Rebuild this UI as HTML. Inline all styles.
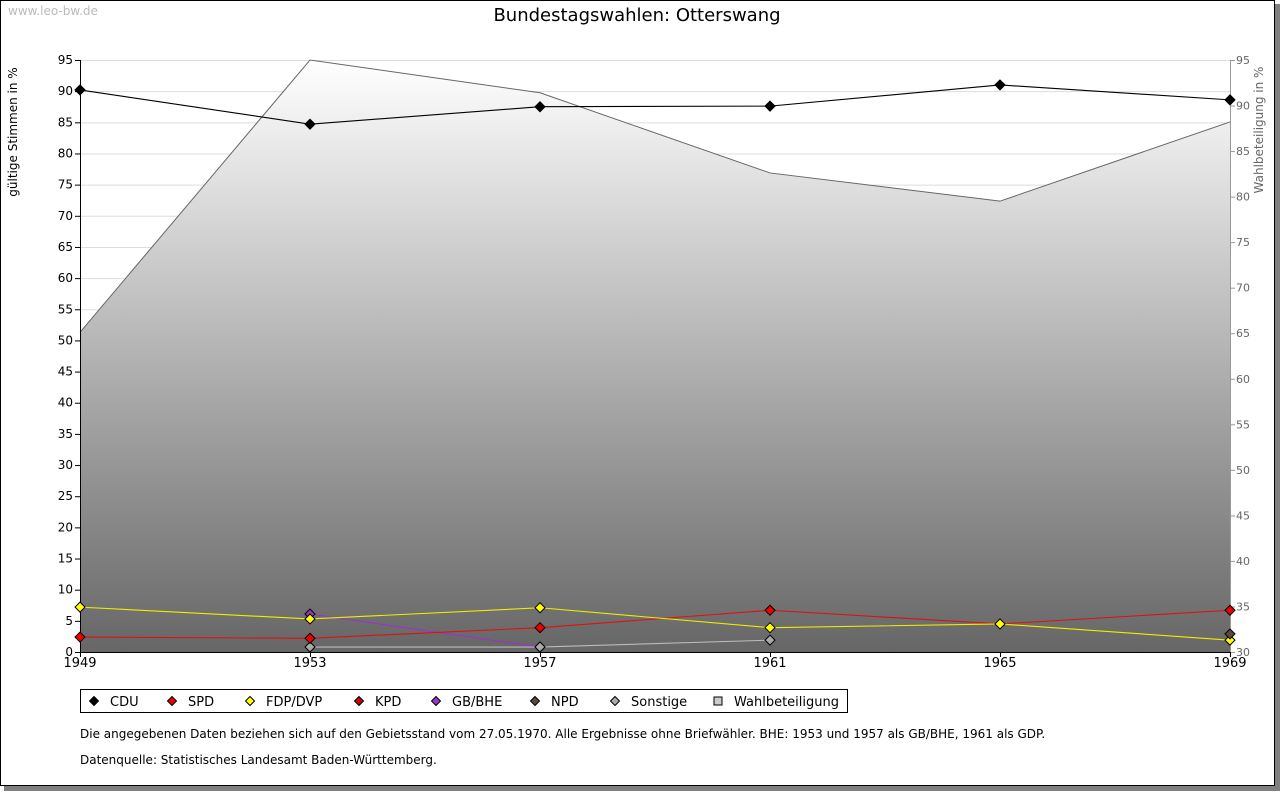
<!DOCTYPE html>
<html><head><meta charset="utf-8"><style>
body{margin:0;background:#fff;font-family:"Liberation Sans","DejaVu Sans",sans-serif;}
svg text{font-family:"DejaVu Sans","Liberation Sans",sans-serif;}
</style></head><body>
<svg id="c" width="1280" height="791" xmlns="http://www.w3.org/2000/svg">
<defs><linearGradient id="g" x1="0" y1="0" x2="0" y2="1"><stop offset="0" stop-color="#ffffff"/><stop offset="1" stop-color="#666666"/></linearGradient></defs>
<rect x="4" y="4" width="1276" height="787" fill="#808080"/>
<rect x="0.5" y="0.5" width="1274" height="785" fill="#fff" stroke="#000"/>
<text x="8" y="15" font-size="12" fill="#bbb">www.leo-bw.de</text>
<text x="637" y="21" font-size="18" text-anchor="middle">Bundestagswahlen: Otterswang</text>
<text transform="translate(17,132) rotate(-90)" font-size="12" text-anchor="middle">gültige Stimmen in %</text>
<text transform="translate(1263,130) rotate(-90)" font-size="12" text-anchor="middle" fill="#666">Wahlbeteiligung in %</text>
<g id="plot"></g>
<g>
<rect x="80.5" y="689.5" width="767" height="23" fill="#fff" stroke="#000"/>
<g id="leg"></g>
</g>
<text x="80" y="738" font-size="12">Die angegebenen Daten beziehen sich auf den Gebietsstand vom 27.05.1970. Alle Ergebnisse ohne Briefwähler. BHE: 1953 und 1957 als GB/BHE, 1961 als GDP.</text>
<text x="80" y="764" font-size="12">Datenquelle: Statistisches Landesamt Baden-Württemberg.</text>
</svg>
<script>
const years=[1949,1953,1957,1961,1965,1969];
const turnout=[65.1,95.0,91.4,82.6,79.5,88.2];
const cdu=[90.2,84.7,87.5,87.6,91.0,88.6];
const spd=[2.4,2.2,3.9,6.7,4.5,6.7];
const fdp=[7.2,5.3,7.1,3.9,4.5,1.9];
const kpd=[null,null,null,null,null,null];
const bhe=[null,6.1,0.8,null,null,null];
const npd=[null,null,null,null,null,2.9];
const sonst=[null,0.8,0.8,1.9,null,null];
const leftTicks=[0,5,10,15,20,25,30,35,40,45,50,55,60,65,70,75,80,85,90,95];
const rightTicks=[30,35,40,45,50,55,60,65,70,75,80,85,90,95];
const NS="http://www.w3.org/2000/svg";
const X0=80,X1=1230,Y0=652,Y1=60;
const x=i=>X0+(X1-X0)*(years[i]-years[0])/(years[years.length-1]-years[0]);
const y=v=>Y0-(Y0-Y1)*v/95;
const y2=v=>Y0-(Y0-Y1)*(v-30)/65;
const P=document.getElementById('plot');
function el(t,a,p){const e=document.createElementNS(NS,t);for(const k in a)e.setAttribute(k,a[k]);(p||P).appendChild(e);return e;}
function dia(cx,cy,r){return (cx)+','+(cy-r)+' '+(cx+r)+','+cy+' '+cx+','+(cy+r)+' '+(cx-r)+','+cy;}
leftTicks.forEach(v=>{
 if(v>0){const l=el('line',{x1:X0,x2:X1,y1:y(v)+.5,y2:y(v)+.5,stroke:'#ddd'});
 
 }
});
let d='M'+x(0)+','+Y0;turnout.forEach((v,i)=>d+=' L'+x(i)+','+y2(v));d+=' L'+x(5)+','+Y0+'Z';
const a=el('path',{d:d,fill:'url(#g)'});


const tl=el('polyline',{points:turnout.map((v,i)=>x(i)+','+y2(v)).join(' '),fill:'none',stroke:'#666'});


el('line',{x1:X0+.5,x2:X0+.5,y1:Y1,y2:Y0,stroke:'#000'});
el('line',{x1:X0,x2:X1,y1:Y0+.5,y2:Y0+.5,stroke:'#000'});
el('line',{x1:X1+.5,x2:X1+.5,y1:Y1,y2:Y0,stroke:'#999'});
leftTicks.forEach(v=>{
 el('line',{x1:X0-5,x2:X0,y1:y(v)+.5,y2:y(v)+.5,stroke:'#000'});
 const t=el('text',{x:X0-7,y:y(v)+4,'font-size':12,'text-anchor':'end'});t.textContent=v;
 
 
});
rightTicks.forEach(v=>{
 el('line',{x1:X1,x2:X1+5,y1:y2(v)+.5,y2:y2(v)+.5,stroke:'#999'});
 const t=el('text',{x:X1+6,y:y2(v)+4,'font-size':11,fill:'#666'});t.textContent=v;
 
 
});
years.forEach((yr,i)=>{
 el('line',{x1:x(i)+.5,x2:x(i)+.5,y1:Y0,y2:Y0+5,stroke:'#000'});
 const t=el('text',{x:x(i),y:Y0+15,'font-size':13,'text-anchor':'middle'});t.textContent=yr;
 
 
});
const series=[['cdu',cdu,'#000','#000'],['gb-bhe',bhe,'#9933cc','#9933cc'],['sonstige',sonst,'#bbb','#aaa'],['kpd',kpd,'#cc0000','#cc0000'],['spd',spd,'#dd1111','#ee0000'],['fdp',fdp,'#eeee00','#ffff00'],['npd',npd,'#5a4a3a','#5a4a3a']];
series.forEach(([n,vals,lc,fc])=>{
 const pts=[];vals.forEach((v,i)=>{if(v!=null)pts.push(x(i)+','+y(v));});
 if(pts.length>1){const l=el('polyline',{points:pts.join(' '),fill:'none',stroke:lc,'stroke-width':1.1});
 
 }
 vals.forEach((v,i)=>{if(v==null)return;
  const c=el('polygon',{points:dia(x(i),y(v),5),fill:fc,stroke:'#000'});
  
  });
});
const L=document.getElementById('leg');
const items=[['CDU','#000',90],['SPD','#ee0000',168],['FDP/DVP','#ffff00',246],['KPD','#cc0000',355],['GB/BHE','#9933cc',432],['NPD','#5a4a3a',531],['Sonstige','#aaa',611],['Wahlbeteiligung','#ccc',714]];
items.forEach(([n,c,px],k)=>{
 const g=el('g',{},L);
 
 
 if(k<7)el('polygon',{points:dia(px+4,701,4.5),fill:c,stroke:'#000'},g);
 else el('rect',{x:px,y:697,width:8,height:8,fill:c,stroke:'#000'},g);
 const t=el('text',{x:px+20,y:706,'font-size':13},g);t.textContent=n;
});
</script>
</body></html>
